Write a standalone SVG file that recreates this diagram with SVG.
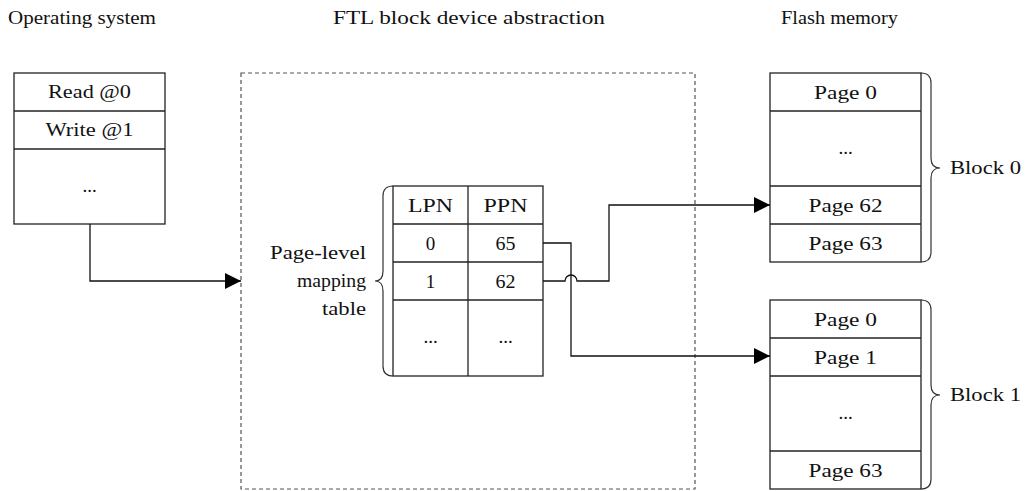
<svg xmlns="http://www.w3.org/2000/svg" width="1025" height="491" viewBox="0 0 1025 491">
<style>
text{font-family:"Liberation Serif","DejaVu Serif",serif;font-size:19px;fill:#111}
.c{text-anchor:middle}
.box{fill:#fff;stroke:#222;stroke-width:1.3}
.ln{fill:none;stroke:#222;stroke-width:1.3}
.br{fill:none;stroke:#333;stroke-width:1.2}
.conn{fill:none;stroke:#111;stroke-width:1.3}
</style>
<defs>
<marker id="arr" viewBox="0 0 10 10" refX="10" refY="5" markerWidth="16" markerHeight="16" markerUnits="userSpaceOnUse" orient="auto">
<path d="M0,0 L10,5 L0,10 z" fill="#000"/>
</marker>
</defs>
<rect width="1025" height="491" fill="#fff"/>
<g id="titles">
<text x="8" y="24" textLength="148" lengthAdjust="spacingAndGlyphs">Operating system</text>
<text x="333" y="24" textLength="272" lengthAdjust="spacingAndGlyphs">FTL block device abstraction</text>
<text x="781" y="24" textLength="117" lengthAdjust="spacingAndGlyphs">Flash memory</text>
</g>
<g id="os">
<rect class="box" x="14" y="73" width="151" height="151"/>
<line class="ln" x1="14" y1="111" x2="165" y2="111"/>
<line class="ln" x1="14" y1="149" x2="165" y2="149"/>
<text class="c" x="89.5" y="98" textLength="83" lengthAdjust="spacingAndGlyphs">Read @0</text>
<text class="c" x="89.5" y="136" textLength="88" lengthAdjust="spacingAndGlyphs">Write @1</text>
<text class="c" x="89.5" y="192">...</text>
</g>
<g id="ftl">
<rect x="241" y="73" width="454" height="416" fill="none" stroke="#555" stroke-width="1.2" stroke-dasharray="4,3"/>
</g>
<g id="table">
<rect class="box" x="393" y="186" width="150" height="190"/>
<line class="ln" x1="468" y1="186" x2="468" y2="376"/>
<line class="ln" x1="393" y1="224" x2="543" y2="224"/>
<line class="ln" x1="393" y1="262" x2="543" y2="262"/>
<line class="ln" x1="393" y1="300" x2="543" y2="300"/>
<text class="c" x="430.5" y="212" textLength="45" lengthAdjust="spacingAndGlyphs">LPN</text>
<text class="c" x="505.5" y="212" textLength="44" lengthAdjust="spacingAndGlyphs">PPN</text>
<text class="c" x="430.5" y="250">0</text>
<text class="c" x="505.5" y="250" textLength="20" lengthAdjust="spacingAndGlyphs">65</text>
<text class="c" x="430.5" y="288">1</text>
<text class="c" x="505.5" y="288" textLength="20" lengthAdjust="spacingAndGlyphs">62</text>
<text class="c" x="430.5" y="343">...</text>
<text class="c" x="505.5" y="343">...</text>
<path class="br" d="M393,186 Q383,186 383,196 L383,271 Q383,281 375,281 Q383,281 383,291 L383,366 Q383,376 393,376"/>
<text x="366" y="259" text-anchor="end" textLength="96" lengthAdjust="spacingAndGlyphs">Page-level</text>
<text x="366" y="287" text-anchor="end" textLength="69" lengthAdjust="spacingAndGlyphs">mapping</text>
<text x="366" y="315" text-anchor="end" textLength="44" lengthAdjust="spacingAndGlyphs">table</text>
</g>
<g id="block0">
<rect class="box" x="770" y="73" width="151" height="189"/>
<line class="ln" x1="770" y1="111" x2="921" y2="111"/>
<line class="ln" x1="770" y1="186" x2="921" y2="186"/>
<line class="ln" x1="770" y1="224" x2="921" y2="224"/>
<text class="c" x="845.5" y="99" textLength="63" lengthAdjust="spacingAndGlyphs">Page 0</text>
<text class="c" x="845.5" y="154">...</text>
<text class="c" x="845.5" y="212" textLength="74" lengthAdjust="spacingAndGlyphs">Page 62</text>
<text class="c" x="845.5" y="250" textLength="74" lengthAdjust="spacingAndGlyphs">Page 63</text>
<path class="br" d="M921,73 Q931,73 931,83 L931,158 Q931,168 940,168 Q931,168 931,178 L931,252 Q931,262 921,262"/>
<text x="950" y="174" textLength="71" lengthAdjust="spacingAndGlyphs">Block 0</text>
</g>
<g id="block1">
<rect class="box" x="770" y="300" width="151" height="189"/>
<line class="ln" x1="770" y1="338" x2="921" y2="338"/>
<line class="ln" x1="770" y1="376" x2="921" y2="376"/>
<line class="ln" x1="770" y1="451" x2="921" y2="451"/>
<text class="c" x="845.5" y="326" textLength="63" lengthAdjust="spacingAndGlyphs">Page 0</text>
<text class="c" x="845.5" y="364" textLength="63" lengthAdjust="spacingAndGlyphs">Page 1</text>
<text class="c" x="845.5" y="419">...</text>
<text class="c" x="845.5" y="477" textLength="74" lengthAdjust="spacingAndGlyphs">Page 63</text>
<path class="br" d="M921,300 Q931,300 931,310 L931,385 Q931,395 940,395 Q931,395 931,405 L931,479 Q931,489 921,489"/>
<text x="950" y="401" textLength="71" lengthAdjust="spacingAndGlyphs">Block 1</text>
</g>
<g id="connectors">
<path class="conn" d="M90,224 L90,281 L241,281" marker-end="url(#arr)"/>
<path class="conn" d="M543,243 L571,243 L571,356 L770,356" marker-end="url(#arr)"/>
<path class="conn" d="M543,281 L565,281 A6,6 0 0 1 577,281 L609,281 L609,205 L770,205" marker-end="url(#arr)"/>
</g>
</svg>
